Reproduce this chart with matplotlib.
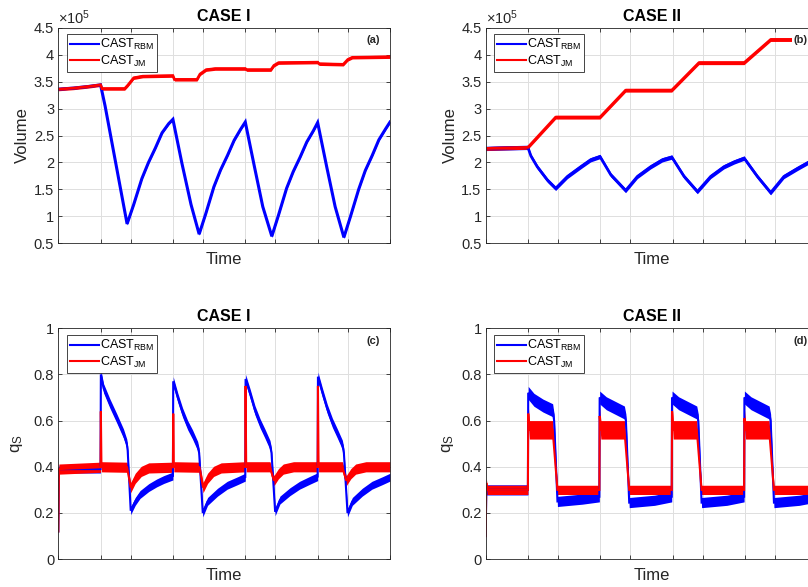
import matplotlib
matplotlib.use('Agg')
import matplotlib.pyplot as plt
from matplotlib.lines import Line2D

plt.rcParams['font.family'] = ['Liberation Sans', 'DejaVu Sans']
plt.rcParams['mathtext.fontset'] = 'custom'
plt.rcParams['mathtext.rm'] = 'Liberation Sans'
plt.rcParams['mathtext.it'] = 'Liberation Sans:italic'
plt.rcParams['mathtext.bf'] = 'Liberation Sans:bold'

# switching instants, used as the (unlabelled) time ticks
t_ticks = [0, 1.4, 2.4, 3.8, 4.8, 6.2, 7.2, 8.6, 9.6, 11]
t_end = 11

# CASE I, volume (x1e5)
vol1_rbm_t = [0, 0.5, 1.0, 1.4, 1.55, 1.75, 1.95, 2.15, 2.28,
	2.5, 2.77, 2.99, 3.22, 3.44, 3.66, 3.8,
	4.1, 4.4, 4.67, 4.89, 5.16, 5.38, 5.61, 5.83, 6.05, 6.2,
	6.5, 6.78, 7.08, 7.3, 7.57, 7.79, 8.02, 8.24, 8.46, 8.6,
	8.9, 9.18, 9.47, 9.69, 9.96, 10.18, 10.41, 10.63, 10.85, 11]
vol1_rbm = [3.36, 3.38, 3.41, 3.44, 3.05, 2.45, 1.85, 1.25, 0.86,
	1.22, 1.70, 2.00, 2.27, 2.55, 2.72, 2.80,
	1.98, 1.22, 0.67, 1.05, 1.55, 1.86, 2.13, 2.41, 2.62, 2.75,
	1.93, 1.18, 0.63, 1.02, 1.52, 1.83, 2.10, 2.38, 2.59, 2.74,
	1.92, 1.18, 0.61, 1.00, 1.50, 1.85, 2.13, 2.42, 2.62, 2.75]
vol1_jm_t = [0, 0.5, 1.0, 1.4, 1.45, 2.2, 2.3, 2.5, 2.8, 3.8, 3.85, 4.6, 4.7, 4.9, 5.2,
	6.2, 6.25, 7.05, 7.15, 7.3, 8.6, 8.65, 9.45, 9.6, 9.75, 11]
vol1_jm = [3.36, 3.38, 3.41, 3.44, 3.37, 3.37, 3.43, 3.57, 3.60, 3.61, 3.54, 3.54, 3.64, 3.72, 3.74,
	3.74, 3.72, 3.72, 3.80, 3.85, 3.86, 3.83, 3.82, 3.91, 3.95, 3.96]

# CASE II, volume (x1e5)
vol2_rbm_t = [0, 1.4, 1.5, 1.71, 2.05, 2.32, 2.71, 3.15, 3.48, 3.79,
	4.15, 4.64, 5.03, 5.47, 5.86, 6.17, 6.58, 7.02, 7.46, 7.9, 8.24, 8.57,
	9.01, 9.45, 9.89, 10.34, 10.69, 11]
vol2_rbm = [2.26, 2.28, 2.12, 1.92, 1.67, 1.52, 1.74, 1.92, 2.05, 2.11,
	1.77, 1.48, 1.74, 1.92, 2.05, 2.10, 1.74, 1.46, 1.74, 1.92, 2.01, 2.08,
	1.74, 1.44, 1.74, 1.89, 2.00, 2.06]
vol2_jm_t = [0, 1.4, 2.32, 3.79, 4.64, 6.17, 7.07, 8.57, 9.45, 11]
vol2_jm = [2.26, 2.28, 2.84, 2.84, 3.34, 3.34, 3.85, 3.85, 4.28, 4.28]

# CASE I, q_S
qs1_rbm_t = [0, 0.02, 1.4, 1.41, 1.5, 1.71, 1.94, 2.16, 2.27, 2.3, 2.4,
	2.55, 2.71, 3.0, 3.26, 3.5, 3.8,
	3.81, 3.96, 4.12, 4.29, 4.45, 4.62, 4.67, 4.79,
	4.95, 5.28, 5.6, 5.95, 6.2,
	6.21, 6.36, 6.52, 6.69, 6.85, 7.02, 7.07, 7.19,
	7.35, 7.68, 8.0, 8.35, 8.6,
	8.61, 8.76, 8.92, 9.09, 9.25, 9.42, 9.47, 9.59,
	9.75, 10.08, 10.4, 10.75, 11]
qs1_rbm = [0.12, 0.39, 0.39, 0.80, 0.74, 0.674, 0.609, 0.544, 0.50, 0.47, 0.21,
	0.25, 0.28, 0.31, 0.33, 0.345, 0.36,
	0.77, 0.70, 0.635, 0.58, 0.54, 0.49, 0.46, 0.20,
	0.25, 0.29, 0.32, 0.34, 0.355,
	0.78, 0.717, 0.645, 0.588, 0.544, 0.494, 0.46, 0.205,
	0.256, 0.292, 0.32, 0.342, 0.357,
	0.79, 0.72, 0.65, 0.59, 0.545, 0.495, 0.46, 0.20,
	0.25, 0.29, 0.32, 0.34, 0.355]
qs1_jm_t = [0, 0.02, 1.4, 1.41, 1.43, 2.28, 2.4, 2.55, 2.75, 3.0,
	3.8, 3.81, 3.83, 4.68, 4.8, 4.95, 5.15, 5.4,
	6.2, 6.21, 6.23, 7.02, 7.15, 7.3, 7.46, 7.8,
	8.6, 8.61, 8.63, 9.42, 9.55, 9.7, 9.86, 10.2, 11]
qs1_jm = [0.12, 0.39, 0.398, 0.64, 0.40, 0.398, 0.31, 0.35, 0.38, 0.395,
	0.398, 0.63, 0.40, 0.398, 0.31, 0.35, 0.38, 0.395,
	0.40, 0.75, 0.40, 0.40, 0.34, 0.37, 0.39, 0.40,
	0.40, 0.75, 0.40, 0.40, 0.34, 0.37, 0.39, 0.40, 0.40]

# CASE II, q_S
qs2_rbm_t = [0, 0.02, 1.4, 1.41, 1.6, 1.9, 2.22, 2.27, 2.38, 3.2, 3.77,
	3.78, 4.0, 4.3, 4.6, 4.65, 4.76, 5.6, 6.17,
	6.18, 6.4, 6.7, 7.0, 7.05, 7.16, 8.0, 8.57,
	8.58, 8.8, 9.1, 9.4, 9.45, 9.56, 10.4, 11]
qs2_rbm = [0.10, 0.30, 0.30, 0.72, 0.69, 0.665, 0.645, 0.60, 0.25, 0.26, 0.27,
	0.70, 0.675, 0.655, 0.635, 0.60, 0.245, 0.255, 0.27,
	0.70, 0.675, 0.655, 0.635, 0.60, 0.245, 0.255, 0.27,
	0.70, 0.675, 0.655, 0.635, 0.60, 0.245, 0.255, 0.27]
qs2_jm_t = [0, 0.02, 0.05, 1.4, 1.41, 1.45, 2.22, 2.38, 3.77,
	3.78, 3.82, 4.6, 4.76, 6.17, 6.18, 6.22, 7.0, 7.16, 8.57,
	8.58, 8.62, 9.4, 9.56, 11]
qs2_jm = [0.10, 0.33, 0.30, 0.30, 0.63, 0.56, 0.56, 0.30, 0.30,
	0.62, 0.56, 0.56, 0.30, 0.30, 0.64, 0.56, 0.56, 0.30, 0.30,
	0.61, 0.56, 0.56, 0.30, 0.30]

rbm_color = (0, 0, 1)
jm_color = (1, 0, 0)
ink = '#262626'

fig = plt.figure(figsize=(8.08, 5.87), dpi=100)

def draw_series(ax, t, v, color, spread, lw):
	# noisy trace: band whose half-height grows with the level, plus a core line
	lo = []
	hi = []
	for y in v:
		hw = spread[0] if y < spread[2] else spread[1]
		lo.append(y - hw)
		hi.append(y + hw)
	ax.fill_between(t, lo, hi, color=color, linewidth=0)
	ax.plot(t, v, color=color, linewidth=lw, solid_joinstyle='miter')

def setup_axes(rect, title, ylim, yticks, ylabel, tag, ylabel_x, tag_x):
	ax = fig.add_axes(rect)
	ax.set_xlim(0, t_end)
	ax.set_ylim(ylim)
	ax.set_xticks(t_ticks)
	ax.set_xticklabels([])
	ax.set_yticks(yticks)
	ax.set_yticklabels(['%g' % y for y in yticks])
	ax.tick_params(axis='both', direction='in', length=3, width=0.6, colors=ink,
		labelsize=10.5, top=True, right=True, pad=3)
	for s in ax.spines.values():
		s.set_color(ink)
		s.set_linewidth(0.6)
	ax.grid(True, color='#dfdfdf', linewidth=0.7)
	ax.set_axisbelow(True)
	ax.set_title(title, fontsize=11.5, fontweight='bold', pad=5)
	ax.set_xlabel('Time', fontsize=12, color=ink)
	ax.set_ylabel(ylabel, fontsize=12, color=ink)
	ax.xaxis.set_label_coords(0.5, -0.04)
	ax.yaxis.set_label_coords(ylabel_x, 0.5)
	ax.text(tag_x, 0.945, tag, transform=ax.transAxes, fontsize=8, fontweight='bold',
		ha='left', va='center', color=ink, zorder=5,
		bbox=dict(facecolor='white', edgecolor='none', pad=1))
	return ax

def add_legend(ax):
	handles = [Line2D([], [], color=rbm_color, linewidth=1.5),
		Line2D([], [], color=jm_color, linewidth=1.5)]
	labels = [r'CAST$_{\mathrm{RBM}}$', r'CAST$_{\mathrm{JM}}$']
	leg = ax.legend(handles, labels, loc='upper left', bbox_to_anchor=(0.025, 0.97),
		fontsize=9, frameon=True, fancybox=False, framealpha=1, edgecolor=ink,
		borderpad=0.25, handlelength=2.3, handletextpad=0.1, labelspacing=0.1,
		borderaxespad=0)
	leg.get_frame().set_linewidth(0.6)
	leg.set_zorder(6)

top_h = 0.3673
bot_h = 0.3935
w = 0.4105
vol_ticks = [0.5, 1, 1.5, 2, 2.5, 3, 3.5, 4, 4.5]
qs_ticks = [0, 0.2, 0.4, 0.6, 0.8, 1]

ax_a = setup_axes([0.0722, 0.5855, w, top_h], 'CASE I', (0.5, 4.5),
	vol_ticks, 'Volume', '(a)', -0.085, 0.928)
draw_series(ax_a, vol1_rbm_t, vol1_rbm, rbm_color, (0.02, 0.02, 9), 2.2)
draw_series(ax_a, vol1_jm_t, vol1_jm, jm_color, (0.03, 0.03, 9), 2.0)
ax_a.text(0.0, 1.005, r'$\times10^{5}$', transform=ax_a.transAxes, fontsize=10.5,
	color=ink, ha='left', va='bottom')
add_legend(ax_a)

ax_b = setup_axes([0.6011, 0.5855, w, top_h], 'CASE II', (0.5, 4.5),
	vol_ticks, 'Volume', '(b)', -0.085, 0.928)
draw_series(ax_b, vol2_rbm_t, vol2_rbm, rbm_color, (0.04, 0.04, 9), 2.0)
draw_series(ax_b, vol2_jm_t, vol2_jm, jm_color, (0.035, 0.035, 9), 2.0)
ax_b.text(0.0, 1.005, r'$\times10^{5}$', transform=ax_b.transAxes, fontsize=10.5,
	color=ink, ha='left', va='bottom')
add_legend(ax_b)

ax_c = setup_axes([0.0722, 0.0474, w, bot_h], 'CASE I', (0, 1),
	qs_ticks, r'q$_{\mathrm{S}}$', '(c)', -0.1, 0.928)
draw_series(ax_c, qs1_rbm_t, qs1_rbm, rbm_color, (0.017, 0.02, 0.45), 1.5)
draw_series(ax_c, qs1_jm_t, qs1_jm, jm_color, (0.022, 0.022, 9), 1.5)
add_legend(ax_c)

ax_d = setup_axes([0.6011, 0.0474, w, bot_h], 'CASE II', (0, 1),
	qs_ticks, r'q$_{\mathrm{S}}$', '(d)', -0.09, 0.928)
draw_series(ax_d, qs2_rbm_t, qs2_rbm, rbm_color, (0.022, 0.028, 0.45), 1.5)
draw_series(ax_d, qs2_jm_t, qs2_jm, jm_color, (0.02, 0.04, 0.45), 1.5)
add_legend(ax_d)

fig.savefig('out.png', dpi=100)
